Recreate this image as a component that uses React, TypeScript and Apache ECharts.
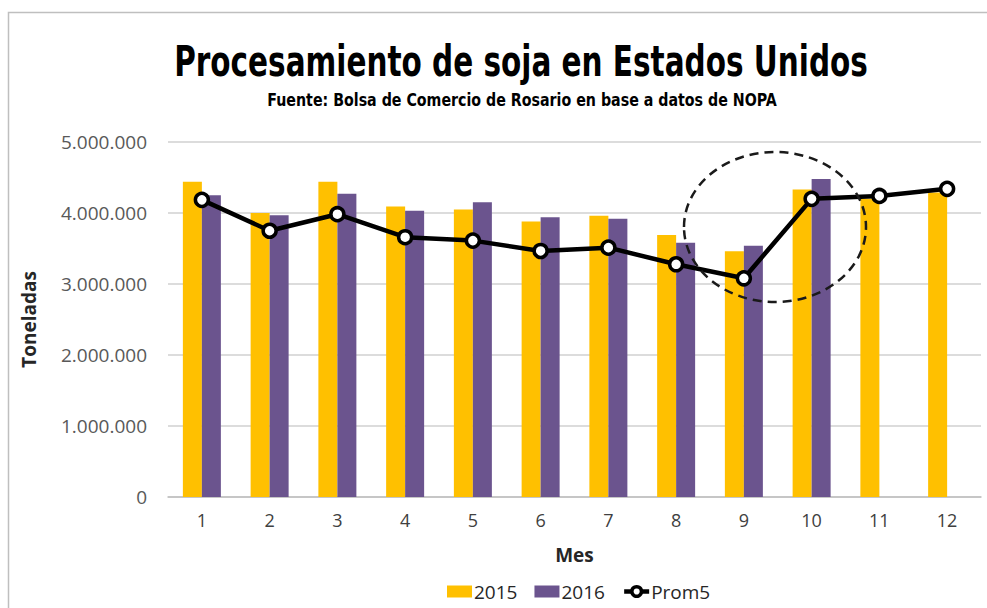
import React, { useEffect, useRef } from "react";
import * as echarts from "echarts";

const months = ["1", "2", "3", "4", "5", "6", "7", "8", "9", "10", "11", "12"];
const s2015 = [4440000, 4000000, 4440000, 4090000, 4050000, 3880000, 3960000, 3690000, 3460000, 4330000, 4200000, 4290000];
const s2016 = [4250000, 3970000, 4270000, 4030000, 4150000, 3940000, 3920000, 3580000, 3540000, 4480000, null, null];
const prom5 = [4185000, 3750000, 3983000, 3659000, 3611000, 3465000, 3512000, 3278000, 3080000, 4199000, 4240000, 4340000];
const yTicks = [0, 1000000, 2000000, 3000000, 4000000, 5000000];

const fmt = (v: number) => v.toLocaleString("de-DE");

export default function App() {
  const ref = useRef<HTMLDivElement>(null);
  useEffect(() => {
    const chart = echarts.init(ref.current!, null, { renderer: "svg" });
    const axisFont = "'Open Sans', 'Liberation Sans', sans-serif";
    const titleFont = "'DejaVu Sans Condensed', 'Liberation Sans Narrow', sans-serif";
    chart.setOption({
      animation: false,
      backgroundColor: "#ffffff",
      graphic: [
        {
          type: "rect",
          shape: { x: 8.5, y: 12.5, width: 1000, height: 700 },
          style: { fill: "none", stroke: "#bfbfbf", lineWidth: 1.5 },
          silent: true,
        },
        {
          type: "text",
          x: 521,
          y: 62,
          scaleX: 0.82,
          scaleY: 1.05,
          style: {
            text: "Procesamiento de soja en Estados Unidos",
            font: "bold 40px " + titleFont,
            fill: "#000000",
            align: "center",
            verticalAlign: "middle",
          },
        },
        {
          type: "text",
          x: 522,
          y: 100,
          scaleX: 0.93,
          style: {
            text: "Fuente: Bolsa de Comercio de Rosario en base a datos de NOPA",
            font: "bold 17px " + titleFont,
            fill: "#000000",
            align: "center",
            verticalAlign: "middle",
          },
        },
        {
          type: "ellipse",
          shape: { cx: 775, cy: 227, rx: 91, ry: 75 },
          style: { fill: "none", stroke: "#1a1a1a", lineWidth: 2.5, lineDash: [9, 6] },
          silent: true,
          z: 100,
        },
      ],
      grid: { left: 168, right: 6, top: 142, bottom: 111, containLabel: false },
      legend: {
        left: 442,
        top: 577,
        itemGap: 17,
        itemWidth: 25,
        itemHeight: 12,
        textStyle: { fontFamily: axisFont, fontSize: 19, color: "#262626", padding: [0, 0, 0, -3] },
        data: [
          { name: "2015", icon: "rect" },
          { name: "2016", icon: "rect" },
          { name: "Prom5", lineStyle: { width: 4.5, color: "#000" }, itemStyle: { borderWidth: 3.5 } },
        ],
      },
      xAxis: {
        type: "category",
        data: months,
        name: "Mes",
        nameLocation: "middle",
        nameGap: 48,
        nameTextStyle: { fontFamily: axisFont, fontSize: 19, fontWeight: "bold", color: "#262626" },
        axisLine: { lineStyle: { color: "#bfbfbf", width: 1.5 } },
        axisTick: { show: false },
        axisLabel: { fontFamily: axisFont, fontSize: 18, color: "#404040", margin: 14 },
      },
      yAxis: {
        type: "value",
        min: 0,
        max: 5000000,
        interval: 1000000,
        name: "Toneladas",
        nameLocation: "middle",
        nameGap: 130,
        nameTextStyle: { fontFamily: axisFont, fontSize: 19, fontWeight: "bold", color: "#262626" },
        axisLine: { show: false },
        axisTick: { show: false },
        splitLine: { lineStyle: { color: "#d0d0d0", width: 1.5 } },
        axisLabel: {
          fontFamily: axisFont,
          fontSize: 19,
          color: "#595959",
          margin: 21,
          formatter: (v: number) => (yTicks.includes(v) ? fmt(v) : ""),
        },
      },
      series: [
        {
          name: "2015",
          type: "bar",
          data: s2015,
          barWidth: 19,
          barGap: "0%",
          itemStyle: { color: "#FFC000" },
        },
        {
          name: "2016",
          type: "bar",
          data: s2016,
          barWidth: 19,
          barGap: "0%",
          itemStyle: { color: "#6B548E" },
        },
        {
          name: "Prom5",
          type: "line",
          data: prom5,
          symbol: "circle",
          symbolSize: 13,
          lineStyle: { color: "#000000", width: 4.5 },
          itemStyle: { color: "#ffffff", borderColor: "#000000", borderWidth: 3.5 },
          z: 10,
        },
      ],
    });
    return () => chart.dispose();
  }, []);
  return (
    <div
      ref={ref}
      style={{ position: "fixed", left: 0, top: 0, width: 987, height: 608 }}
    />
  );
}
